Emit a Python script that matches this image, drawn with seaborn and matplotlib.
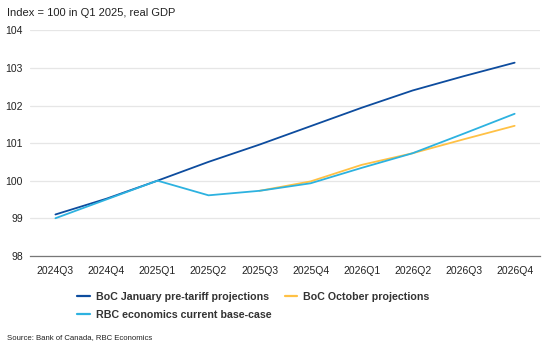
import matplotlib
matplotlib.use("Agg")
import matplotlib.pyplot as plt
from matplotlib.lines import Line2D
import numpy as np
import pandas as pd
import seaborn as sns

quarters = ["2024Q3", "2024Q4", "2025Q1", "2025Q2", "2025Q3",
            "2025Q4", "2026Q1", "2026Q2", "2026Q3", "2026Q4"]
boc_january = [99.10, 99.52, 100.00, 100.50, 100.96,
               101.45, 101.94, 102.40, 102.78, 103.14]
boc_october = [np.nan, np.nan, np.nan, np.nan, 99.73,
               99.98, 100.42, 100.73, 101.10, 101.46]
rbc_base = [99.00, 99.50, 100.00, 99.61, 99.73,
            99.93, 100.34, 100.73, 101.25, 101.78]
yticks = [98, 99, 100, 101, 102, 103, 104]

names = ["BoC January pre-tariff projections",
         "BoC October projections",
         "RBC economics current base-case"]
colors = ["#0D4C9E", "#FFC145", "#2DB2E0"]

frames = []
for name, vals in zip(names, [boc_january, boc_october, rbc_base]):
    frames.append(pd.DataFrame({"pos": np.arange(len(quarters)),
                                "quarter": quarters,
                                "value": vals,
                                "series": name}))
df = pd.concat(frames, ignore_index=True).dropna()

sns.set_theme(style="white")
plt.rcParams["font.family"] = ["Liberation Sans", "DejaVu Sans"]

fig = plt.figure(figsize=(5.54, 3.49), dpi=100)
ax = fig.add_axes([0.054, 0.267, 0.921, 0.646])

sns.lineplot(data=df, x="pos", y="value", hue="series",
             hue_order=names, palette=colors, linewidth=1.3,
             ax=ax, legend=False, sort=False)

ax.set_xlim(-0.5, len(quarters) - 0.5)
ax.set_ylim(98, 104)
ax.set_xticks(range(len(quarters)))
ax.set_xticklabels(quarters)
ax.set_yticks(yticks)
ax.set_yticklabels([str(t) for t in yticks])
ax.set_xlabel("")
ax.set_ylabel("")
ax.tick_params(axis="both", labelsize=7.5, colors="#222222", length=0)
ax.tick_params(axis="x", pad=7)
ax.tick_params(axis="y", pad=5)
ax.grid(axis="y", color="#E6E6E6", linewidth=0.9)
ax.set_axisbelow(True)
for side in ["left", "right", "top"]:
    ax.spines[side].set_visible(False)
ax.spines["bottom"].set_color("#777777")
ax.spines["bottom"].set_linewidth(0.9)

# legend entries listed column-wise so that rows read Jan, Oct / RBC
order = [0, 2, 1]
handles = [Line2D([0], [0], color=colors[i], linewidth=1.6) for i in order]
labels = [names[i] for i in order]
leg = fig.legend(handles, labels, loc="upper left",
                 bbox_to_anchor=(0.132, 0.177), ncol=2, frameon=False,
                 handlelength=1.15, handletextpad=0.55, columnspacing=1.25,
                 labelspacing=0.75, borderaxespad=0,
                 prop={"size": 7.7, "weight": "bold"})
for t in leg.get_texts():
    t.set_color("#333333")

fig.text(0.013, 0.977, "Index = 100 in Q1 2025, real GDP",
         fontsize=8, color="#222222", ha="left", va="top")
fig.text(0.013, 0.033, "Source: Bank of Canada, RBC Economics",
         fontsize=5.6, color="#222222", ha="left", va="center")

fig.savefig("out.png", dpi=100)
